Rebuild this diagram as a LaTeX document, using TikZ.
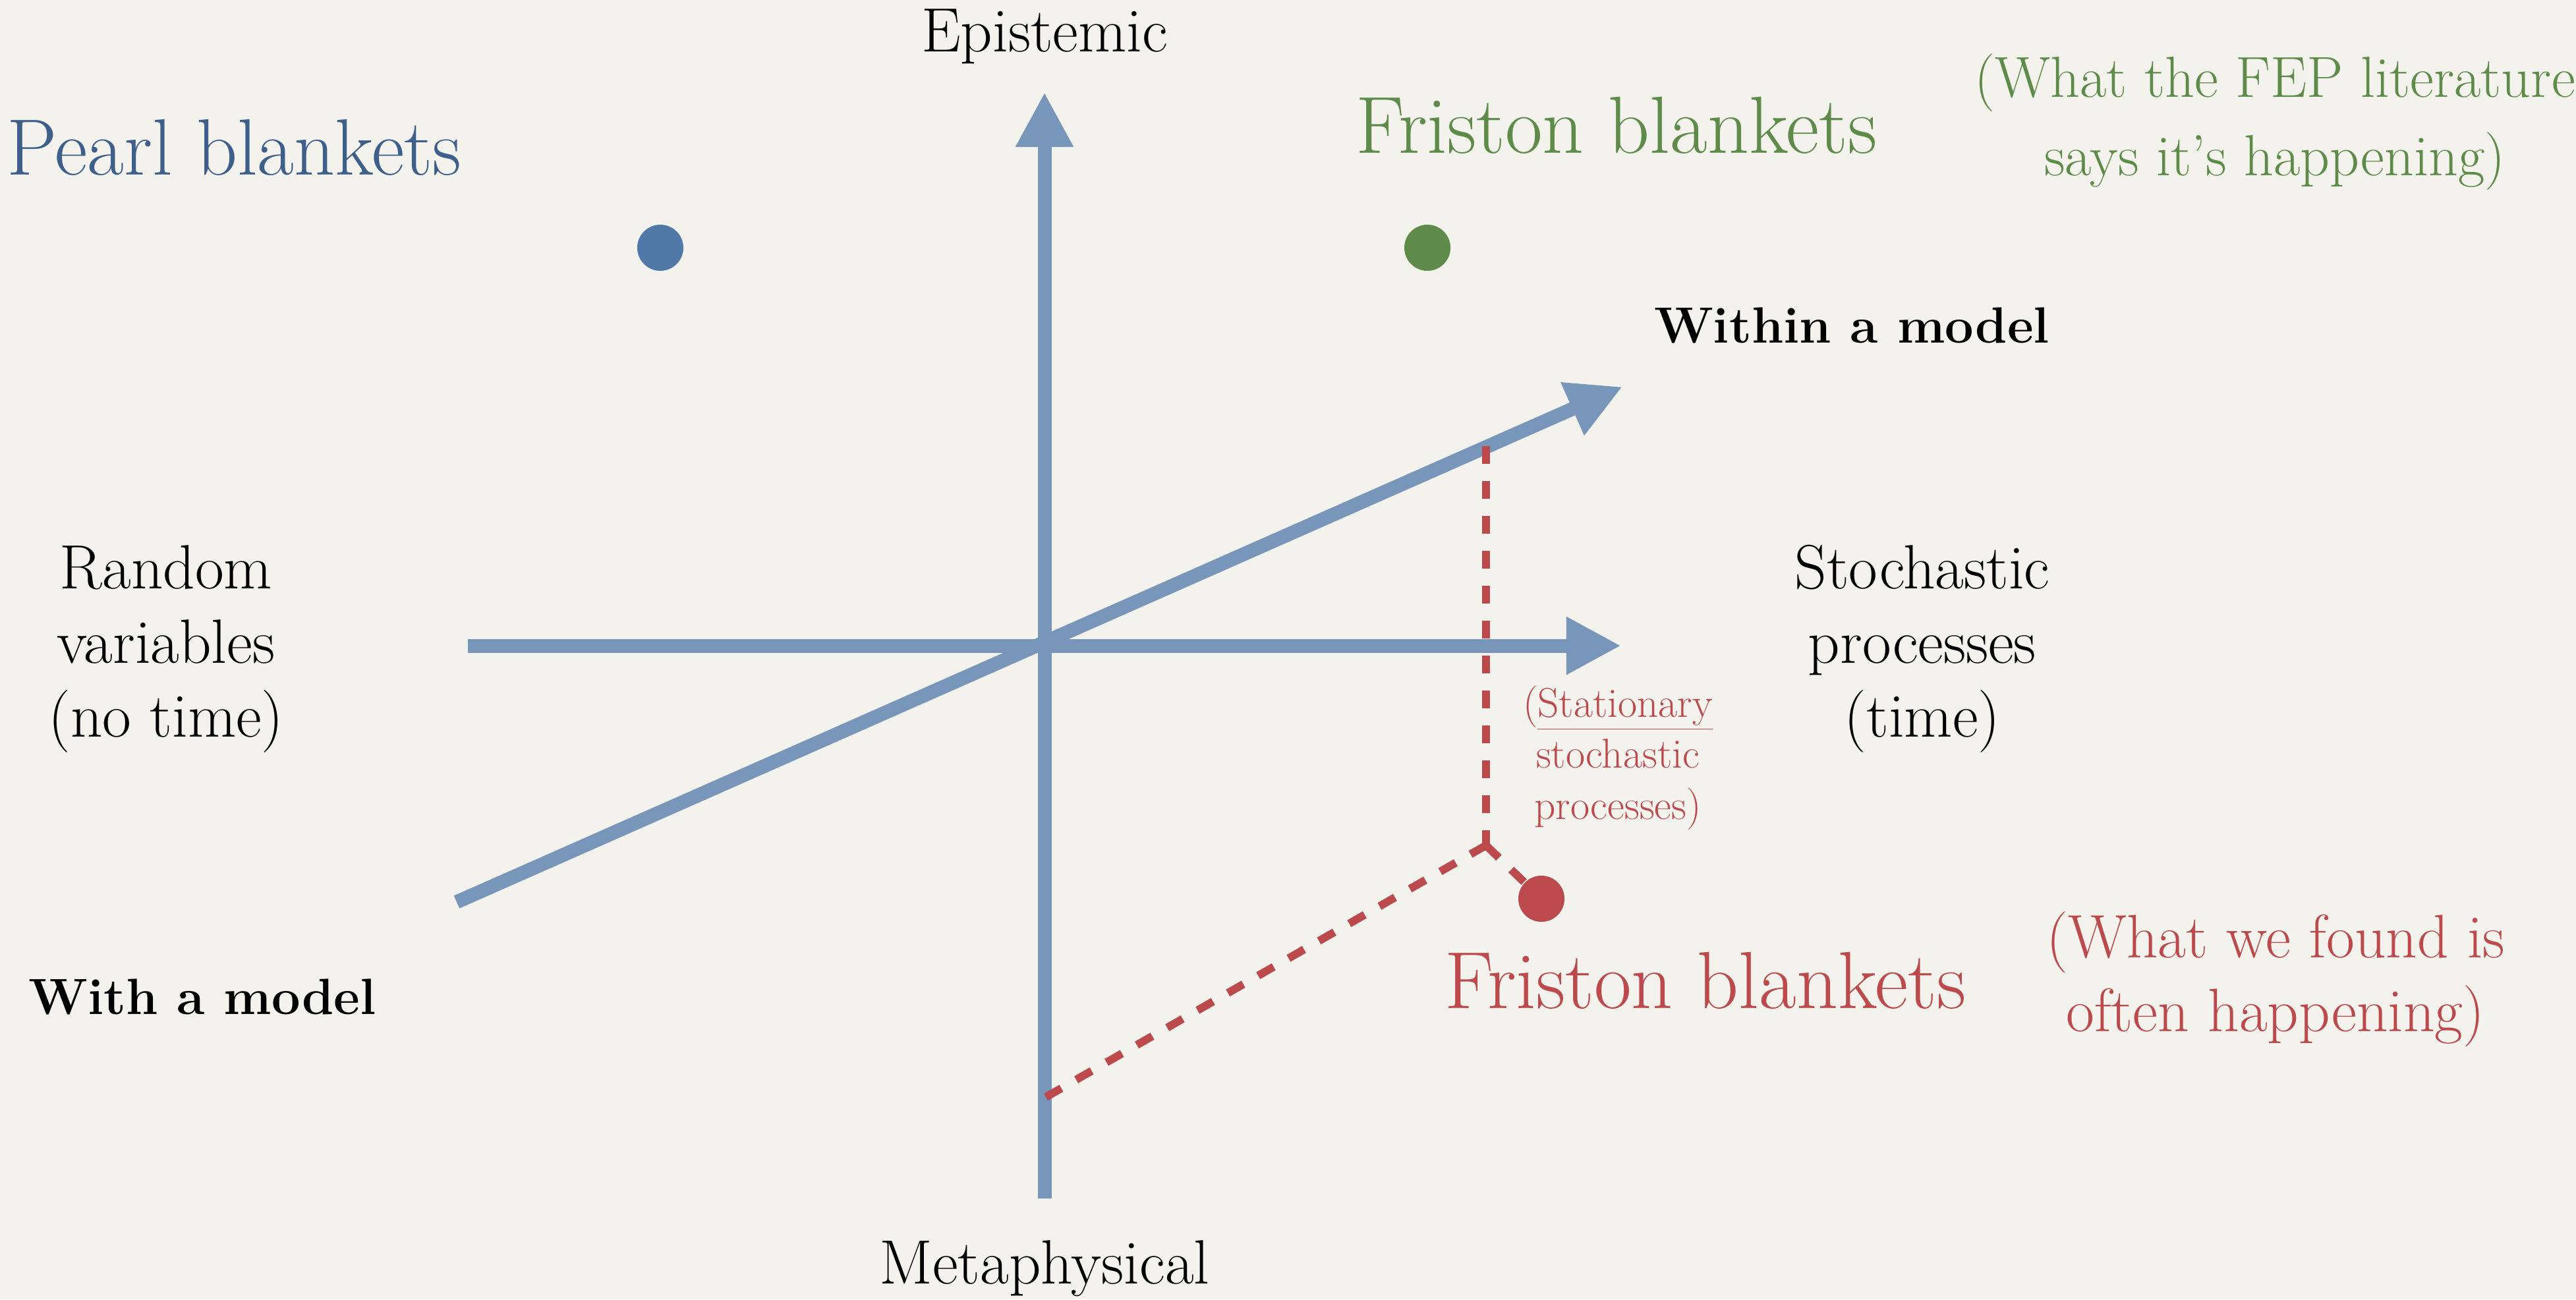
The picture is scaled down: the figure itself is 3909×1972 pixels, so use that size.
\documentclass[tikz,border=0pt]{standalone}
\usepackage{tikz}
\usetikzlibrary{arrows.meta}

\definecolor{paper}{HTML}{F4F2ED}
\definecolor{axisblue}{HTML}{7896BA}
\definecolor{pearlblue}{HTML}{3E5F8A}
\definecolor{dotblue}{HTML}{5079A8}
\definecolor{fepgreen}{HTML}{5E8A4A}
\definecolor{foundred}{HTML}{BC4A4D}

\begin{document}
\begin{tikzpicture}[x=0.01cm, y=-0.01cm,
		axis/.style={draw=axisblue, line width=0.21cm, -{Triangle[length=0.83cm, width=0.82cm]}},
		blanketdot/.style={circle, inner sep=0pt, minimum size=0.7cm},
		reddash/.style={draw=foundred, line width=0.12cm, dash pattern=on 0.27cm off 0.26cm},
		lbl/.style={font=\fontsize{27}{32}\selectfont, align=center, inner sep=0pt}]

		\fill[paper] (0,0) rectangle (3909,1972);
		\useasboundingbox (0,0) rectangle (3909,1972);

		\coordinate (orig) at (1585,980);
		\coordinate (metatop) at (1585,140);
		\coordinate (metabot) at (1585,1819);
		\coordinate (timeleft) at (710,980);
		\coordinate (timeright) at (2460,980);
		\coordinate (modelfrom) at (693,1369);
		\coordinate (modelto) at (2462,587);

		\draw[axis, -] (metabot) -- (orig);
		\draw[axis] (orig) -- (metatop);
		\draw[axis, -] (timeleft) -- (orig);
		\draw[axis] (orig) -- (timeright);
		\draw[axis] (modelfrom) -- (modelto);

		\node[lbl] (epi) at (1585,55) {Epistemic};
		\node[lbl] (meta) at (1585,1925) {Metaphysical};
		\node[lbl] (randvar) at (252,985) {Random\\variables\\(no time)};
		\node[lbl] (stochproc) at (2917,985) {Stochastic\\processes\\(time)};
		\node[lbl, font=\fontsize{22}{28}\selectfont\bfseries] (within) at (2810,494) {Within a model};
		\node[lbl, font=\fontsize{22}{28}\selectfont\bfseries] (withmodel) at (307,1513) {With a model};

		\node[lbl, font=\fontsize{34.5}{40}\selectfont, text=pearlblue] (pearl) at (355,224) {Pearl blankets};
		\node[blanketdot, fill=dotblue] (pearldot) at (1002,376) {};

		\node[lbl, font=\fontsize{35}{40}\selectfont, text=fepgreen] (fristonfep) at (2453,190) {Friston blankets};
		\node[lbl, font=\fontsize{25}{34}\selectfont, text=fepgreen] (fepnote) at (3452,185) {(What the FEP literature\\says it's happening)};
		\node[blanketdot, fill=fepgreen] (fepdot) at (2166,376) {};

		\node[lbl, font=\fontsize{35}{40}\selectfont, text=foundred] (fristonfound) at (2588,1488) {Friston blankets};
		\node[lbl, font=\fontsize{26.5}{32}\selectfont, text=foundred] (foundnote) at (3453,1486) {(What we found is\\often happening)};
		\node[blanketdot, fill=foundred] (founddot) at (2339,1364) {};
		\node[lbl, font=\fontsize{18}{22}\selectfont, text=foundred] (stationary) at (2455,1150) {(\underline{Stationary}\\stochastic\\processes)};

		% dashed projection of the red dot
		\coordinate (onmodel) at (2255,677);
		\coordinate (bend) at (2255,1283);
		\coordinate (onmeta) at (1587,1665);
		\draw[reddash] (onmodel) -- (bend);
		\draw[reddash] (bend) -- (onmeta);
		\draw[reddash] (bend) -- (founddot);
\end{tikzpicture}
\end{document}
